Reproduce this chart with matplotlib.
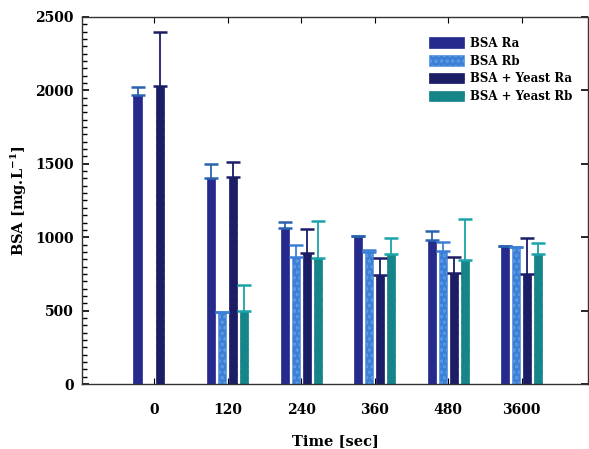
import numpy as np
import matplotlib.pyplot as plt
from matplotlib.ticker import MultipleLocator

plt.rcParams['font.family'] = ['DejaVu Serif']
plt.rcParams['font.weight'] = 'bold'
plt.rcParams['mathtext.fontset'] = 'dejavuserif'
plt.rcParams['hatch.linewidth'] = 0.6

times = ['0', '120', '240', '360', '480', '3600']
labels = ['BSA Ra', 'BSA Rb', 'BSA + Yeast Ra', 'BSA + Yeast Rb']

bsa_ra = [1970, 1405, 1060, 1010, 980, 942]
bsa_rb = [np.nan, 488, 867, 899, 906, 931]
yeast_ra = [2030, 1412, 894, 742, 754, 749]
yeast_rb = [np.nan, 499, 860, 886, 845, 883]

bsa_ra_err = [50, 95, 43, 0, 61, 0]
bsa_rb_err = [0, 0, 80, 14, 63, 5]
yeast_ra_err = [370, 100, 162, 114, 113, 243]
yeast_rb_err = [0, 177, 252, 106, 279, 79]

series = [bsa_ra, bsa_rb, yeast_ra, yeast_rb]
errors = [bsa_ra_err, bsa_rb_err, yeast_ra_err, yeast_rb_err]
colors = ['#252a8c', '#3d7fd6', '#1b1d66', '#16858a']
edge = ['#252a8c', '#5a9ae0', '#1b1d66', '#16858a']
hatches = [None, 'ooo', '....', 'ooo']
ecolors = ['#2a62b0', '#3d7fd6', '#1b1d66', '#1aa3a8']

fig = plt.figure(figsize=(5.89, 4.49), dpi=100)
ax = fig.add_axes([82 / 589, 65 / 449, 506 / 589, 367 / 449])

x = np.arange(len(times))
step = 0.15
width = 0.11
for i in range(4):
    pos = x + (i - 1.5) * step
    vals = np.array(series[i], dtype=float)
    err = np.array(errors[i], dtype=float)
    ax.bar(pos, vals, width, color=colors[i], edgecolor=edge[i], hatch=hatches[i],
           linewidth=0.5, label=labels[i], zorder=2)
    mask = ~np.isnan(vals)
    ax.errorbar(pos[mask], vals[mask], yerr=[np.zeros(mask.sum()), err[mask]],
                fmt='none', ecolor=ecolors[i], elinewidth=1.3, capsize=5,
                capthick=1.8, zorder=3)

ax.set_xlim(-0.98, 5.9)
ax.set_ylim(0, 2500)
ax.set_xticks(x)
ax.set_xticklabels(times)
ax.yaxis.set_major_locator(MultipleLocator(500))
ax.yaxis.set_minor_locator(MultipleLocator(50))
ax.tick_params(axis='x', direction='in', labelsize=10, top=True, length=4, pad=14)
ax.tick_params(axis='y', direction='in', labelsize=10, right=True, length=5, width=1.2, pad=6)
ax.tick_params(axis='y', which='minor', direction='in', length=3.5, width=1.0, left=True, right=False)
for s in ax.spines.values():
    s.set_color('#333333')
    s.set_linewidth(1.0)

ax.set_xlabel('Time [sec]', fontsize=10.5, fontweight='bold', labelpad=12)
ax.set_ylabel('BSA [mg.L$^{\\mathbf{-1}}$]', fontsize=10.5, fontweight='bold', labelpad=4)

ax.legend(loc='upper right', bbox_to_anchor=(0.99, 0.975), frameon=False, fontsize=8.5,
          handlelength=3.0, handleheight=1.0, labelspacing=0.4, handletextpad=0.5)

fig.savefig('out.png', dpi=100)
